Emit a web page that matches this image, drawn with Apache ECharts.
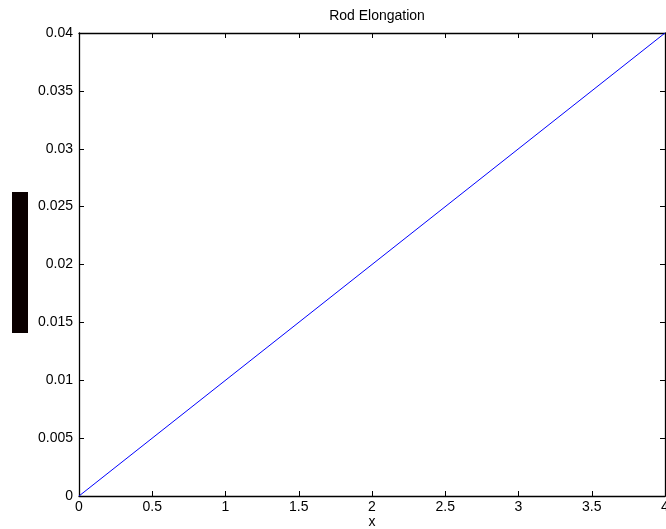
<!DOCTYPE html>
<html>
<head>
<meta charset="utf-8">
<script src="https://cdn.jsdelivr.net/npm/echarts@6/dist/echarts.min.js"></script>
<style>
  html, body { margin: 0; padding: 0; background: #fff; }
  #chart { width: 666px; height: 529px; }
</style>
</head>
<body>
<div id="chart"></div>
<script>
// rod elongation vs x
var xValues = [0, 4];
var yValues = [0, 0.04];
var xTicks = ['0', '0.5', '1', '1.5', '2', '2.5', '3', '3.5', '4'];
var yTicks = ['0', '0.005', '0.01', '0.015', '0.02', '0.025', '0.03', '0.035', '0.04'];

var chart = echarts.init(document.getElementById('chart'));

var font = 'Liberation Sans, Arial, sans-serif';
var axisLine = { show: true, onZero: false, lineStyle: { color: '#000', width: 1.3 } };
var inTick = { show: true, inside: true, length: 5, lineStyle: { color: '#000' } };

chart.setOption({
  animation: false,
  title: {
    text: 'Rod Elongation',
    left: 372,
    textAlign: 'center',
    top: 4,
    textStyle: { fontFamily: font, fontSize: 14, fontWeight: 'normal', color: '#000' }
  },
  grid: { left: 79, right: 1, top: 33, bottom: 33, outerBoundsMode: 'none', containLabel: false },
  graphic: [{
    type: 'rect',
    shape: { x: 12, y: 192, width: 16, height: 141 },
    style: { fill: '#0a0000' }
  }],
  xAxis: [{
    type: 'value',
    min: 0, max: 4, interval: 0.5,
    name: 'x',
    nameLocation: 'middle',
    nameGap: 19,
    nameMoveOverlap: false,
    nameTextStyle: { fontFamily: font, fontSize: 14, color: '#000' },
    axisLine: axisLine,
    axisTick: inTick,
    splitLine: { show: false },
    axisLabel: {
      fontFamily: font, fontSize: 14, color: '#000', margin: 4,
      formatter: function (v) { return xTicks[Math.round(v / 0.5)]; }
    }
  }, {
    type: 'value', position: 'top',
    min: 0, max: 4, interval: 0.5,
    axisLine: axisLine, axisTick: inTick,
    axisLabel: { show: false }, splitLine: { show: false }
  }],
  yAxis: [{
    type: 'value',
    min: 0, max: 0.04, interval: 0.005,
    axisLine: axisLine,
    axisTick: inTick,
    splitLine: { show: false },
    axisLabel: {
      fontFamily: font, fontSize: 14, color: '#000', margin: 6,
      formatter: function (v) { return yTicks[Math.round(v / 0.005)]; }
    }
  }, {
    type: 'value', position: 'right',
    min: 0, max: 0.04, interval: 0.005,
    axisLine: axisLine, axisTick: inTick,
    axisLabel: { show: false }, splitLine: { show: false }
  }],
  series: [{
    type: 'line',
    data: xValues.map(function (x, i) { return [x, yValues[i]]; }),
    showSymbol: false,
    lineStyle: { color: '#0000ff', width: 1 }
  }]
});
</script>
</body>
</html>
